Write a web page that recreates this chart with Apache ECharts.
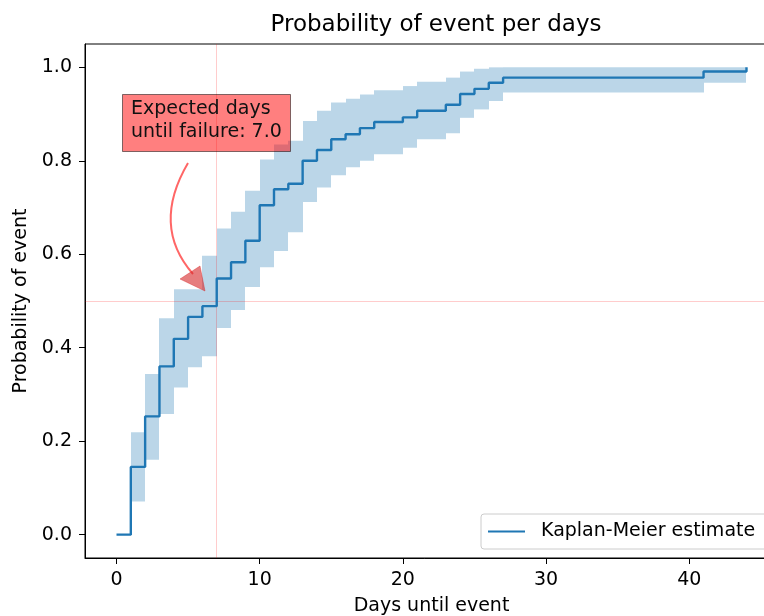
<!DOCTYPE html>
<html>
<head>
<meta charset="utf-8">
<script src="https://cdn.jsdelivr.net/npm/echarts@6/dist/echarts.min.js"></script>
<style>
  html, body { margin: 0; padding: 0; background: #fff; }
  #chart { width: 764px; height: 616px; }
</style>
</head>
<body>
<div id="chart"></div>
<script>
// Kaplan-Meier steps (value held until the next time point)
var days = [0, 1, 2, 3, 4, 5, 6, 7, 8, 9, 10, 11, 12, 13, 14, 15, 16, 17, 18, 20, 21, 23, 24, 25, 26, 27, 41, 44];
var kmEstimate = [0, 0.145, 0.253, 0.36, 0.419, 0.466, 0.489, 0.548, 0.583, 0.629, 0.705, 0.739, 0.751, 0.80, 0.823, 0.846, 0.857, 0.870, 0.883, 0.893, 0.907, 0.920, 0.943, 0.954, 0.967, 0.978, 0.991, 1.0];
var ciUpper = [0, 0.219, 0.344, 0.463, 0.525, 0.525, 0.597, 0.655, 0.691, 0.736, 0.803, 0.835, 0.843, 0.885, 0.907, 0.925, 0.933, 0.942, 0.951, 0.960, 0.969, 0.978, 0.991, 0.997, 1.0, 1.0, 1.0, 1.0];
var ciLower = [0, 0.071, 0.160, 0.258, 0.315, 0.358, 0.382, 0.442, 0.481, 0.530, 0.572, 0.607, 0.647, 0.712, 0.743, 0.769, 0.786, 0.800, 0.814, 0.828, 0.846, 0.859, 0.892, 0.910, 0.928, 0.946, 0.967, 0.967];
var xTicks = [0, 10, 20, 30, 40];
var yTicks = [0, 0.2, 0.4, 0.6, 0.8, 1.0];
var expectedDays = 7.0;
var halfLine = 0.5;

var blue = '#1f77b4';
var fnt = 'DejaVu Sans';
var fs = 19;

var chart = echarts.init(document.getElementById('chart'), null, {renderer: 'canvas'});

// one block per step interval: [start, end, lower, upper]
var bandRects = [];
for (var i = 0; i < days.length - 1; i++) {
    bandRects.push([days[i], days[i + 1], ciLower[i], ciUpper[i]]);
}
var kmPts = days.map(function (d, i) { return [d, kmEstimate[i]]; });

function renderBand(params, api) {
    var a = api.coord([api.value(0), api.value(3)]);
    var b = api.coord([api.value(1), api.value(2)]);
    var x0 = Math.round(a[0]), x1 = Math.round(b[0]);
    return {
        type: 'rect',
        shape: {x: x0, y: a[1], width: x1 - x0, height: b[1] - a[1]},
        style: {fill: 'rgba(31,119,180,0.3)'}
    };
}

var option = {
    animation: false,
    title: {
        text: 'Probability of event per days',
        left: 431, top: 9, textAlign: 'center',
        textStyle: {fontFamily: fnt, fontSize: 23, fontWeight: 'normal', color: '#000'}
    },
    grid: {
        left: 85, top: 44, right: -14, bottom: 58,
        outerBoundsMode: 'none',
        show: true, borderColor: '#000', borderWidth: 1, backgroundColor: 'transparent'
    },
    legend: {
        data: ['Kaplan-Meier estimate'],
        left: 481, top: 514,
        padding: [8, 14, 8, 7],
        icon: 'rect', itemWidth: 37, itemHeight: 2,
        textStyle: {fontFamily: fnt, fontSize: fs, color: '#000', padding: [0, 0, 0, 11]},
        backgroundColor: 'rgba(255,255,255,0.8)',
        borderColor: '#ccc', borderWidth: 1, borderRadius: 3
    },
    xAxis: {
        type: 'value', min: -2.2, max: 46.2,
        name: 'Days until event', nameLocation: 'middle', nameGap: 39,
        nameTextStyle: {fontFamily: fnt, fontSize: fs, color: '#000'},
        axisLine: {show: true, onZero: false, lineStyle: {color: '#000', width: 1}},
        axisTick: {show: true, length: 6, lineStyle: {color: '#000'}, customValues: xTicks},
        axisLabel: {fontFamily: fnt, fontSize: fs, color: '#000', margin: 13, customValues: xTicks},
        splitLine: {show: false}
    },
    yAxis: {
        type: 'value', min: -0.05, max: 1.05,
        name: 'Probability of event', nameLocation: 'middle', nameGap: 46,
        nameTextStyle: {fontFamily: fnt, fontSize: fs, color: '#000'},
        axisLine: {show: true, onZero: false, lineStyle: {color: '#000', width: 1}},
        axisTick: {show: true, length: 6, lineStyle: {color: '#000'}, customValues: yTicks},
        axisLabel: {
            fontFamily: fnt, fontSize: fs, color: '#000', margin: 13, customValues: yTicks,
            formatter: function (v) { return v.toFixed(1); }
        },
        splitLine: {show: false}
    },
    series: [
        {
            name: 'ci', type: 'custom', renderItem: renderBand,
            data: bandRects, silent: true, z: 1,
            encode: {x: [0, 1], y: [2, 3]}
        },
        {
            name: 'Kaplan-Meier estimate', type: 'line', step: 'end',
            data: kmPts, showSymbol: false, z: 5,
            color: blue,
            lineStyle: {color: blue, width: 2.4},
            markLine: {
                silent: true, symbol: 'none', label: {show: false},
                lineStyle: {color: 'rgba(255,0,0,0.2)', width: 1, type: 'solid'},
                data: [{xAxis: expectedDays}, {yAxis: halfLine}]
            }
        }
    ],
    graphic: [
        {
            type: 'bezierCurve', z: 20,
            shape: {x1: 188, y1: 163, cpx1: 151, cpy1: 226, x2: 193, y2: 274},
            style: {stroke: 'rgba(255,0,0,0.6)', lineWidth: 2, fill: null}
        },
        {
            type: 'polygon', z: 20,
            shape: {points: [[205, 291], [180, 279], [200, 266]]},
            style: {fill: 'rgba(214,39,40,0.6)', stroke: 'rgba(214,39,40,0.4)'}
        },
        {
            type: 'rect', z: 20,
            shape: {x: 122.5, y: 94.5, width: 168, height: 57},
            style: {fill: 'rgba(255,0,0,0.5)', stroke: 'rgba(0,0,0,0.5)', lineWidth: 1}
        },
        {
            type: 'text', z: 21, left: 131, top: 98,
            style: {
                text: 'Expected days\nuntil failure: 7.0',
                fontFamily: fnt, fontSize: fs, lineHeight: 23, fill: '#111'
            }
        }
    ]
};
chart.setOption(option);
</script>
</body>
</html>
